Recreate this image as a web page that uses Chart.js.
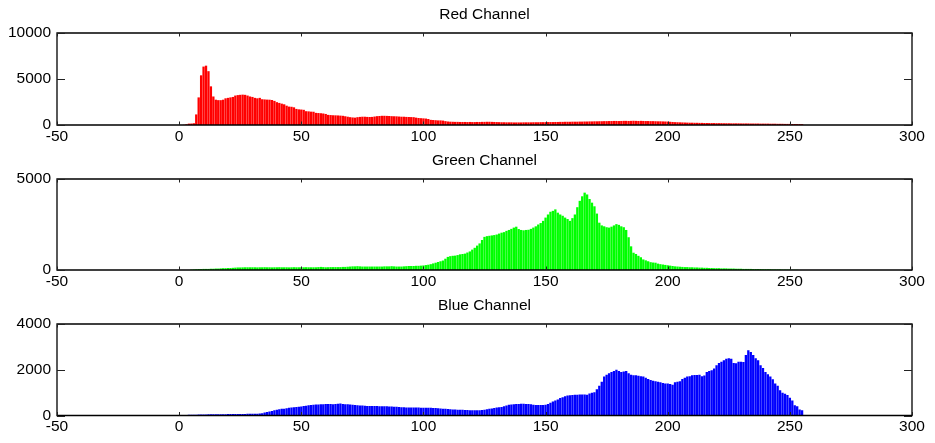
<!DOCTYPE html>
<html><head><meta charset="utf-8">
<script src="https://cdn.jsdelivr.net/npm/chart.js@4.4.0/dist/chart.umd.min.js"></script>
<style>
html,body{margin:0;padding:0;background:#fff;}
#wrap{position:relative;width:935px;height:443px;overflow:hidden;background:#fff;}
canvas{position:absolute;left:0;}
</style></head><body>
<div id="wrap">
<canvas id="cR" width="935" height="146" style="top:0px"></canvas>
<canvas id="cG" width="935" height="146" style="top:146px"></canvas>
<canvas id="cB" width="935" height="151" style="top:292px"></canvas>
</div>
<script>
// Bin categories (pixel intensity 0..255)
const bins = Array.from({length:256},(_,i)=>i);

const redCounts = [
 0,0,20,80,150,160,190,1150,3000,5400,6350,6450,5850,4200,3100,2750,
 2700,2700,2750,2900,2950,3000,3050,3200,3250,3280,3300,3280,3200,3100,3050,2950,
 2900,2950,2800,2780,2760,2750,2720,2620,2480,2400,2320,2250,2100,2000,1980,1920,
 1750,1700,1680,1650,1500,1480,1450,1440,1320,1300,1280,1250,1200,1100,1080,1060,
 1050,1040,1020,1000,950,900,850,820,800,850,880,900,900,880,870,880,
 920,960,980,1000,1000,990,980,960,950,940,920,900,900,880,870,860,
 850,800,760,740,720,700,650,560,540,520,500,500,480,420,380,360,
 350,340,340,330,330,330,320,330,320,320,330,330,340,340,350,350,
 340,330,320,310,300,300,290,290,290,280,280,280,280,290,290,290,
 290,300,300,300,310,310,310,320,320,320,330,330,340,340,350,350,
 350,360,360,360,370,370,380,380,390,390,400,400,410,410,420,420,
 430,430,440,440,430,440,450,450,440,450,460,450,440,450,440,430,
 430,420,420,410,400,400,390,380,370,350,330,310,300,290,280,270,
 260,250,250,240,240,230,230,220,220,210,210,210,200,200,200,190,
 190,190,180,180,180,180,170,170,170,170,160,160,160,160,150,150,
 150,150,140,140,140,130,130,130,120,120,120,110,110,100,100,90
];
const greenCounts = [
 0,0,0,0,0,20,30,40,50,50,60,60,60,70,70,80,
 80,90,100,100,110,110,120,130,140,140,145,150,150,150,150,150,
 145,150,150,155,150,150,145,150,150,155,150,150,150,145,150,155,
 150,150,150,150,155,150,150,150,150,160,170,160,150,155,160,160,
 160,160,160,170,170,180,190,200,200,210,200,190,190,190,190,190,
 190,190,190,190,200,200,200,210,200,190,190,190,200,210,220,220,
 220,230,230,240,250,270,290,320,360,400,440,480,520,620,720,760,
 780,790,820,860,880,900,960,1020,1120,1220,1340,1460,1650,1820,1860,1880,
 1900,1920,1950,2000,2050,2080,2150,2200,2260,2330,2380,2250,2200,2180,2200,2210,
 2260,2330,2400,2500,2580,2700,2880,3050,3200,3250,3330,3150,3050,2980,2880,2800,
 2700,2850,3050,3450,3800,4050,4250,4150,3900,3700,3500,3100,2600,2450,2400,2350,
 2330,2380,2450,2520,2480,2400,2350,2200,1800,1300,950,880,780,700,580,530,
 480,430,410,400,350,320,300,280,260,240,220,200,190,180,170,160,
 160,150,150,140,140,130,130,120,120,110,110,100,100,100,90,90,
 90,80,80,80,70,70,70,60,60,60,60,50,50,50,50,40,
 40,40,40,30,30,30,30,20,20,20,20,10,10,10,0,0
];
const blueCounts = [
 0,10,20,20,30,30,30,30,40,40,40,40,50,50,50,60,
 60,60,60,60,70,70,70,70,70,70,70,70,80,80,80,80,
 80,90,100,130,150,170,200,230,250,270,290,300,320,340,350,360,
 370,380,390,410,430,450,460,470,480,480,490,490,500,500,500,490,
 500,510,520,500,490,490,480,470,460,450,440,440,430,420,420,410,
 410,410,400,400,400,400,390,390,380,380,370,360,360,350,350,350,
 350,350,350,340,340,340,340,340,330,330,320,310,300,290,280,270,
 260,260,250,250,250,240,240,230,230,230,230,230,240,250,270,290,
 310,330,350,360,370,400,440,470,480,490,500,500,510,510,500,500,
 490,470,460,460,460,460,470,500,560,610,660,700,760,800,840,870,
 890,900,910,910,920,920,920,910,960,1000,1020,1150,1300,1480,1700,1780,
 1850,1900,1950,2000,1950,1900,1920,1950,1850,1780,1760,1760,1740,1720,1700,1650,
 1600,1550,1520,1500,1480,1450,1420,1400,1400,1380,1340,1450,1480,1500,1600,1650,
 1700,1720,1760,1770,1770,1780,1720,1750,1900,1950,1980,2050,2200,2300,2350,2420,
 2480,2500,2480,2300,2280,2350,2350,2340,2650,2850,2780,2640,2500,2420,2200,2080,
 1900,1800,1700,1580,1400,1300,1100,1000,950,900,780,660,450,400,260,230
];

const xTicks = [-50,0,50,100,150,200,250,300];
const redYTicks = [0,5000,10000];
const greenYTicks = [0,5000];
const blueYTicks = [0,2000,4000];
const titles = ['Red Channel','Green Channel','Blue Channel'];
const colors = ['#ff0000','#00ff00','#0000ff'];

const FONT = '"Liberation Sans", Arial, Helvetica, sans-serif';
Chart.defaults.font.family = FONT;
Chart.defaults.color = '#000';

const boxPlugin = {
  id: 'matlabBox',
  afterDatasetsDraw(chart, args, opts) {
    const {ctx, chartArea: a, scales: {x, y}} = chart;
    ctx.save();
    ctx.strokeStyle = '#000';
    ctx.lineWidth = 1.3;
    ctx.beginPath();
    ctx.rect(a.left, a.top, a.right - a.left, a.bottom - a.top);
    ctx.stroke();
    ctx.lineWidth = 1;
    ctx.strokeStyle = '#222';
    ctx.beginPath();
    xTicks.forEach(v => {
      const px = Math.round(x.getPixelForValue(v)) + 0.5;
      ctx.moveTo(px, a.bottom); ctx.lineTo(px, a.bottom - 3.5);
      ctx.moveTo(px, a.top); ctx.lineTo(px, a.top + 3.5);
    });
    opts.yt.forEach(v => {
      const py = Math.round(y.getPixelForValue(v)) + 0.5;
      ctx.moveTo(a.left, py); ctx.lineTo(a.left + 8, py);
      ctx.moveTo(a.right, py); ctx.lineTo(a.right - 8, py);
    });
    ctx.stroke();
    ctx.restore();
  }
};

function makeChart(id, counts, color, title, yTicks, yMax, canvasH, areaBottom, tPadTop, tPadBottom) {
  return new Chart(document.getElementById(id), {
    type: 'bar',
    data: {
      labels: bins,
      datasets: [{
        data: counts,
        backgroundColor: color,
        borderWidth: 0,
        barPercentage: 0.95,
        categoryPercentage: 1.0
      }]
    },
    options: {
      responsive: false,
      animation: false,
      devicePixelRatio: 1,
      layout: {padding: {left: 0, right: 23, top: 0, bottom: 0}},
      plugins: {
        legend: {display: false},
        tooltip: {enabled: false},
        title: {
          display: true, text: title, color: '#000', fullSize: false,
          font: {family: FONT, size: 15.5, weight: 'normal', lineHeight: 1.2},
          padding: {top: tPadTop, bottom: tPadBottom}
        },
        matlabBox: {yt: yTicks}
      },
      scales: {
        x: {
          type: 'linear', min: -50, max: 300, offset: false,
          grid: {display: false, drawTicks: false},
          border: {display: false},
          afterBuildTicks: s => { s.ticks = xTicks.map(v => ({value: v})); },
          afterFit: s => { s.height = canvasH - areaBottom; },
          ticks: {
            autoSkip: false, maxRotation: 0, padding: 2,
            font: {family: FONT, size: 15.5},
            callback: v => String(v)
          }
        },
        y: {
          min: 0, max: yMax,
          grid: {display: false, drawTicks: false},
          border: {display: false},
          afterBuildTicks: s => { s.ticks = yTicks.map(v => ({value: v})); },
          afterFit: s => { s.width = 57; },
          ticks: {
            padding: 6,
            font: {family: FONT, size: 15.5},
            callback: v => String(v)
          }
        }
      }
    },
    plugins: [boxPlugin]
  });
}

makeChart('cR', redCounts, colors[0], titles[0], redYTicks, 10000, 146, 125, 5.7, 8.7);
makeChart('cG', greenCounts, colors[1], titles[1], greenYTicks, 5000, 146, 124, 5.7, 8.7);
makeChart('cB', blueCounts, colors[2], titles[2], blueYTicks, 4000, 151, 123.5, 4.2, 9.2);
</script>
</body></html>
